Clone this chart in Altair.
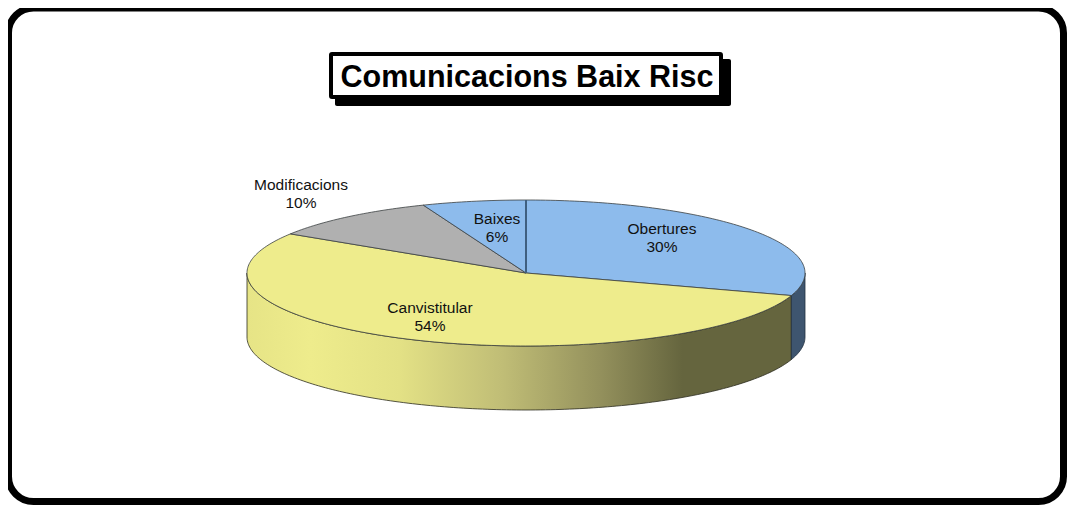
import math
import altair as alt

names = ["Obertures", "Canvistitular", "Modificacions", "Baixes"]
shares = [30, 54, 10, 6]
top_colors = ["#8DBBEC", "#EEEC8C", "#B0B0B0", "#8DBBEC"]
label_x = [654, 422, 293, 489]
label_y = [221, 300, 177, 211]
title_text = "Comunicacions Baix Risc"

CX, CY, RX, RY, DEPTH = 518.0, 265.0, 279.0, 73.0, 64.0
W, H = 1059, 497


def pt(deg, dy=0.0):
    a = math.radians(deg)
    return [CX + RX * math.sin(a), CY - RY * math.cos(a) + dy]


def arc(a, b, dy=0.0):
    n = max(2, int(abs(b - a)))
    return [pt(a + (b - a) * i / n, dy) for i in range(n + 1)]


def feature(name, coords, kind="Polygon"):
    geom = coords if kind == "LineString" else [coords]
    return {"type": "Feature", "properties": {"name": name},
            "geometry": {"type": kind, "coordinates": geom}}


def side(a, b):
    ring = arc(a, b) + arc(b, a, DEPTH)
    return ring + [ring[0]]


def geo(features):
    return alt.InlineData(values={"type": "FeatureCollection", "features": features},
                          format=alt.DataFormat(property="features", type="json"))


tops = []
start = 0.0
angles = []
for n, s in zip(names, shares):
    end = start + s * 3.6
    angles.append((start, end))
    tops.append(feature(n, [[CX, CY]] + arc(start, end) + [[CX, CY]]))
    start = end

proj = dict(type="identity", scale=1, translate=[0, 0])
one = alt.Data(values=[{"a": 1}])


def box(x1, y1, x2, y2, **kw):
    return alt.Chart(one).mark_rect(**kw).encode(
        x=alt.value(x1), x2=alt.value(x2), y=alt.value(y1), y2=alt.value(y2))


frame = box(0.5, 0, 1055.5, 493.5, fill="white", stroke="black", strokeWidth=7, cornerRadius=25)
shadow = box(327, 51, 723, 98, fill="black", cornerRadius=2)
title_box = box(323, 46, 713, 89, fill="white", stroke="black", strokeWidth=4, cornerRadius=1)

yellow_side = alt.Chart(geo([feature("side", side(angles[0][1], 270))])).mark_geoshape(
    stroke="#2c2c20", strokeWidth=0.8,
    fill=alt.Gradient(gradient="linear", x1=0, x2=1, y1=0, y2=0, stops=[
        alt.GradientStop(offset=0, color="#E6E486"),
        alt.GradientStop(offset=0.116, color="#EEEC8C"),
        alt.GradientStop(offset=0.28, color="#E3E185"),
        alt.GradientStop(offset=0.47, color="#C0BD76"),
        alt.GradientStop(offset=0.65, color="#93905C"),
        alt.GradientStop(offset=0.8, color="#65653E"),
        alt.GradientStop(offset=1, color="#65653E"),
    ])).project(**proj)
blue_side = alt.Chart(geo([feature("side", side(90, angles[0][1]))])).mark_geoshape(
    fill="#3E556F", stroke="#22303f", strokeWidth=0.8).project(**proj)

top = alt.Chart(geo(tops)).mark_geoshape(stroke="#3a3f40", strokeWidth=0.8).encode(
    color=alt.Color("properties.name:N", legend=None,
                    scale=alt.Scale(domain=names, range=top_colors))
).project(**proj)

divider = alt.Chart(geo([feature("d", [[CX, CY], pt(0)], "LineString")])).mark_geoshape(
    filled=False, stroke="#3F5F80", strokeWidth=2).project(**proj)

labels = alt.Chart(alt.Data(values=[
    {"t": f"{n}\n{s}%", "lon": x, "lat": y}
    for n, s, x, y in zip(names, shares, label_x, label_y)
])).mark_text(font="Liberation Sans", fontSize=15.5, lineBreak="\n", lineHeight=18,
              baseline="middle", align="center", color="#111111").encode(
    longitude="lon:Q", latitude="lat:Q", text="t:N").project(**proj)

title = alt.Chart(alt.Data(values=[{"t": title_text, "lon": 519, "lat": 70}])).mark_text(
    font="Liberation Sans", fontWeight="bold", fontSize=30.5, baseline="middle",
    align="center", color="black").encode(
    longitude="lon:Q", latitude="lat:Q", text="t:N").project(**proj)

chart = alt.layer(frame, shadow, title_box, yellow_side, blue_side, top, divider, labels, title).properties(
    width=W, height=H, padding=0, autosize="none", background="white"
).configure_view(stroke=None)

chart.save("out.html", embed_options={"renderer": "svg", "actions": False})
